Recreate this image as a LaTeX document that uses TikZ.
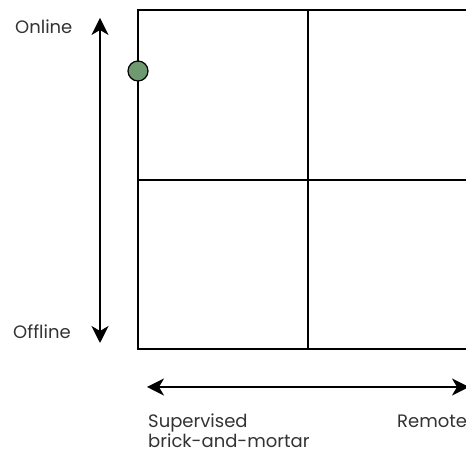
\documentclass[tikz,border=0pt]{standalone}
\usepackage{fontspec}
\setmainfont{Poppins}
\usetikzlibrary{arrows.meta}
\definecolor{dotgreen}{RGB}{111,154,112}
\begin{document}
\begin{tikzpicture}[x=1pt,y=1pt,
  lbl/.style={font=\fontsize{18}{21}\selectfont, inner sep=0pt, anchor=base west, text=black!80},
  ln/.style={line width=1.5pt},
  arr/.style={line width=1.5pt, {Stealth[length=17pt,width=17pt,inset=5pt]}-{Stealth[length=17pt,width=17pt,inset=5pt]}},
  dot/.style={circle, draw, line width=1.2pt, fill=dotgreen, minimum size=20pt, inner sep=0pt}]
\useasboundingbox (0,0) rectangle (466,454);
\clip (0,0) rectangle (466,454);
% quadrant grid
\draw[ln] (138,444) rectangle (478,105);
\draw[ln] (138,274) -- (478,274);
\draw[ln] (308,444) -- (308,105);
% marker
\node[dot] (m) at (138,383) {};
% axes
\coordinate (vtop) at (100,436);
\coordinate (vbot) at (100,111);
\draw[arr] (vbot) -- (vtop);
\coordinate (hl) at (147,67);
\coordinate (hr) at (469,67);
\draw[arr] (hl) -- (hr);
% labels
\node[lbl] (on) at (15,420) {Online};
\node[lbl] (off) at (13,115) {Offline};
\node[lbl] (sup) at (148,26) {Supervised};
\node[lbl] (bam) at (148,6) {brick-and-mortar};
\node[lbl] (rem) at (397,26) {Remote};
\end{tikzpicture}
\end{document}
